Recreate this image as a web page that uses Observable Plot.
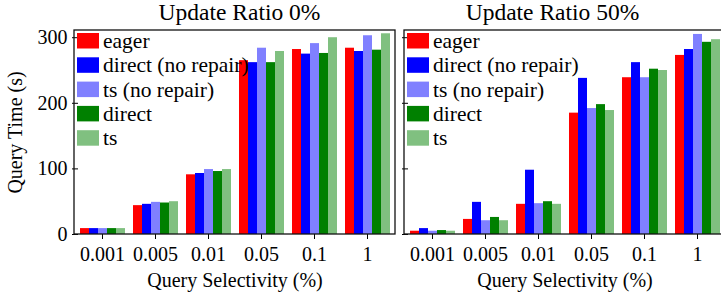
<!DOCTYPE html>
<html>
<head>
<meta charset="utf-8">
<script src="https://cdn.jsdelivr.net/npm/d3@7"></script>
<script src="https://cdn.jsdelivr.net/npm/@observablehq/plot@0.6"></script>
<style>
  html, body { margin: 0; padding: 0; background: white; overflow: hidden; }
  #wrap { display: flex; width: 725px; }
  svg { display: block; }
  svg text { font-family: "Liberation Serif", serif; }
</style>
</head>
<body>
<div id="wrap"></div>
<script>
const categories = ["0.001", "0.005", "0.01", "0.05", "0.1", "1"];
const seriesNames = ["eager", "direct (no repair)", "ts (no repair)", "direct", "ts"];
const seriesColors = ["#ff0000", "#0000ff", "#8080ff", "#008000", "#80c080"];
const yTicks = [0, 100, 200, 300];
const panelTitles = ["Update Ratio 0%", "Update Ratio 50%"];

// Update Ratio 0%
const eager0    = [9, 44, 91, 265, 282, 284];
const directNR0 = [9, 46, 93, 262, 275, 279];
const tsNR0     = [9, 49, 99, 284, 291, 303];
const direct0   = [9, 48, 96, 262, 276, 281];
const ts0       = [9, 50, 99, 279, 300, 306];
// Update Ratio 50%
const eager50    = [5, 23, 46, 185, 239, 273];
const directNR50 = [9, 49, 98, 238, 262, 282];
const tsNR50     = [5, 21, 47, 192, 239, 305];
const direct50   = [6, 26, 50, 198, 252, 293];
const ts50       = [5, 21, 46, 189, 250, 297];

function toRows(arrays) {
  const rows = [];
  arrays.forEach((arr, si) => arr.forEach((v, ci) => rows.push({sel: categories[ci], series: seriesNames[si], value: v})));
  return rows;
}
const data0 = toRows([eager0, directNR0, tsNR0, direct0, ts0]);
const data50 = toRows([eager50, directNR50, tsNR50, direct50, ts50]);

const H = 295, MT = 30, MB = 61;
const FONT = "'Liberation Serif', serif";

function makeChart(data, width, ml, mr, showY, title, titleDx) {
  const svg = Plot.plot({
    width, height: H, marginTop: MT, marginBottom: MB, marginLeft: ml, marginRight: mr,
    style: {fontFamily: FONT, fontSize: "20px", color: "black", background: "white"},
    fx: {domain: categories, paddingInner: 0.1, paddingOuter: 0.05, label: "Query Selectivity (%)",
         labelAnchor: "center", labelOffset: 52, tickSize: 5, tickPadding: 7},
    x: {domain: seriesNames, axis: null, padding: 0},
    y: {domain: [0, 311], ticks: yTicks, tickSize: 6, tickPadding: 5,
        label: showY ? "Query Time (s)" : null, labelAnchor: "center", labelOffset: 71,
        labelArrow: "none",
        tickFormat: showY ? (d => String(d)) : (() => "")},
    color: {domain: seriesNames, range: seriesColors},
    marks: [
      Plot.barY(data, {fx: "sel", x: "series", y: "value", fill: "series"})
    ]
  });
  const s = d3.select(svg);
  const pw = width - ml - mr, ph = H - MT - MB;
  s.append("rect").attr("x", ml).attr("y", MT).attr("width", pw).attr("height", ph)
    .attr("fill", "none").attr("stroke", "#111").attr("stroke-width", 1.3);
  s.append("text").attr("x", ml + pw / 2 + titleDx).attr("y", 20)
    .attr("text-anchor", "middle").attr("font-family", FONT).attr("font-size", 23.5)
    .attr("fill", "black").text(title);
  const lg = s.append("g").attr("font-size", 21.5).attr("font-family", FONT).attr("text-anchor", "start");
  seriesNames.forEach((name, i) => {
    const y0 = MT + 3 + i * 24.3;
    lg.append("rect").attr("x", ml + 3).attr("y", y0).attr("width", 22).attr("height", 15.5).attr("fill", seriesColors[i]);
    lg.append("text").attr("x", ml + 29).attr("y", y0 + 15).attr("text-anchor", "start")
      .attr("fill", "black").text(name);
  });
  return svg;
}

const wrap = document.getElementById("wrap");
wrap.appendChild(makeChart(data0, 399, 74, 4, true, panelTitles[0], 5));
wrap.appendChild(makeChart(data50, 326, 5, 0, false, panelTitles[1], -12));
</script>
</body>
</html>
